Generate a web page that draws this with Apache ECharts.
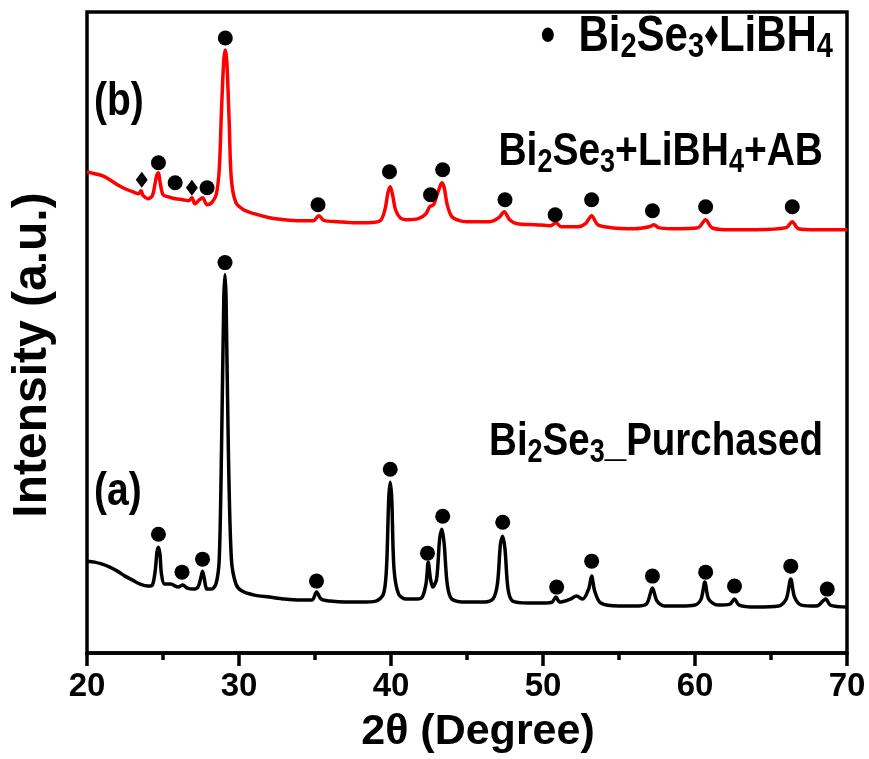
<!DOCTYPE html>
<html>
<head>
<meta charset="utf-8">
<script src="https://cdn.jsdelivr.net/npm/echarts@6/dist/echarts.min.js"></script>
<style>html,body{margin:0;padding:0;background:#fff;}#c{width:869px;height:759px;}</style>
</head>
<body>
<div id="c"></div>
<script>
// 2θ (degree) and intensity (a.u., offset-stacked as in the figure)
const thetaA = [20.0,20.5,21.0,21.5,22.0,22.5,23.0,23.5,24.0,24.3,24.5,24.6,24.7,24.8,24.9,25.1,25.5,26.0,26.3,26.6,27.0,27.3,27.5,27.6,27.7,27.9,28.2,28.5,28.7,28.85,29.0,29.08,29.15,29.3,29.5,29.8,30.2,31.0,32.0,33.0,34.0,34.8,35.1,35.4,36.0,37.0,38.0,39.0,39.5,39.7,39.85,39.95,40.05,40.2,40.5,41.0,41.5,42.0,42.3,42.45,42.6,42.75,43.0,43.2,43.35,43.5,43.7,44.0,45.0,46.0,46.7,47.0,47.2,47.35,47.5,47.7,48.0,49.0,50.0,50.6,50.85,51.1,51.8,52.2,52.6,53.0,53.2,53.4,53.8,55.0,56.0,56.8,57.2,57.5,58.0,59.0,60.0,60.4,60.65,60.9,61.5,62.3,62.6,62.9,64.0,65.5,66.0,66.3,66.55,67.0,68.0,68.6,68.9,70.0];
const intensityA = [92,91,89,86,82,77,73,69,67,68,84,101,106,99,79,69,69,66,68,65,64,66,76,82,76,64,64,70,94,204,354,379,354,204,94,69,62,58,56,54,53,53,61,54,52,51,51,52,59,84,154,171,154,84,59,54,54,55,69,91,74,66,74,114,124,109,69,54,51,51,54,69,109,117,104,64,52,50,50,51,56,51,54,57,54,64,77,62,50,47,47,49,65,52,47,47,48,54,71,54,48,49,54,48,46,47,54,74,56,48,47,54,48,46];

const thetaB = [20.0,20.5,21.0,21.5,22.0,22.5,23.0,23.4,23.55,23.7,24.0,24.3,24.5,24.6,24.7,24.8,25.0,25.3,25.8,26.3,26.7,26.9,27.1,27.4,27.6,27.9,28.2,28.5,28.7,28.85,29.0,29.1,29.2,29.35,29.5,29.8,30.3,31.0,32.0,33.0,34.0,34.9,35.25,35.6,36.5,37.5,38.5,39.3,39.6,39.8,39.95,40.1,40.3,40.6,41.0,41.8,42.3,42.55,42.8,43.1,43.35,43.5,43.7,44.0,44.5,45.0,46.5,47.1,47.45,47.8,48.3,49.5,50.5,50.85,51.2,52.3,52.8,53.2,53.6,54.5,56.0,57.0,57.3,57.6,58.5,60.2,60.7,61.1,62.0,64.0,66.0,66.4,66.8,68.0,70.0];
const intensityB = [482,480,478,474,469,465,462,460,463,458,455,458,472,479,481,472,459,457,455,454,453,456,450,454,456,449,451,459,484,544,594,604,592,534,474,451,444,440,436,434,433,433,438,433,432,431,431,433,444,461,467,459,444,436,434,435,440,447,449,462,471,466,449,437,433,432,432,436,442,434,430,429,428,431,427,427,430,438,429,426,425,427,429,426,425,426,434,426,424,424,426,432,425,424,424];

// Bi2Se3 reflection markers (●) and LiBH4 markers (♦)
const dotThetaA = [24.7,26.25,27.6,29.08,35.1,39.95,42.4,43.4,47.35,50.9,53.2,57.2,60.7,62.6,66.3,68.7];
const dotYA     = [119,81,94,391,72,184,100,137,131,66,92,77,81,67,87,64];
const dotThetaB = [24.7,25.8,27.9,29.1,35.2,39.9,42.6,43.4,47.5,50.8,53.2,57.2,60.7,66.4];
const dotYB     = [491,471,466,616,449,482,459,484,454,439,454,443,447,447];
const diaThetaB = [23.6,26.9];
const diaYB     = [474,466];

const xTicks = [20,30,40,50,60,70];

const zip = (a,b) => a.map((v,i)=>[v,b[i]]);

const chart = echarts.init(document.getElementById('c'), null, {renderer:'canvas'});
const SANS = '"Liberation Sans",Arial,sans-serif';
function rich(main, sub, lh, pad){
  return {
    m:{fontFamily:SANS,fontWeight:'bold',fontSize:main,fill:'#000',lineHeight:lh},
    s:{fontFamily:SANS,fontWeight:'bold',fontSize:sub,fill:'#000',lineHeight:lh,padding:[pad,0,0,0]},
    d:{fontFamily:SANS,fontWeight:'bold',fontSize:sub,fill:'#000',lineHeight:lh}
  };
}
function label(text, x, y, align, main, sub){
  return {type:'text',x:x,y:y,scaleY:1.2,z:10,
    style:{text:text,rich:rich(main,sub,48,18),fill:'#000',textAlign:align,textVerticalAlign:'top'}};
}
chart.setOption({
  animation:false,
  backgroundColor:'#fff',
  grid:{left:87,right:22,top:12,bottom:105,show:true,borderColor:'#000',borderWidth:3.5,backgroundColor:'transparent'},
  xAxis:{
    type:'value',min:xTicks[0],max:xTicks[xTicks.length-1],interval:10,
    axisLine:{show:true,lineStyle:{color:'#000',width:3.5}},
    axisTick:{show:true,inside:false,length:13,lineStyle:{color:'#000',width:3.5}},
    minorTick:{show:true,splitNumber:2,length:7,lineStyle:{color:'#000',width:3.5}},
    splitLine:{show:false},
    axisLabel:{margin:17,color:'#000',fontFamily:SANS,fontWeight:'bold',fontSize:33},
    name:'2θ (Degree)',nameLocation:'middle',nameGap:58,
    nameTextStyle:{color:'#000',fontFamily:SANS,fontWeight:'bold',fontSize:43,padding:[0,0,0,22]}
  },
  yAxis:{
    type:'value',min:0,max:642,show:true,
    axisLine:{show:false},axisTick:{show:false},axisLabel:{show:false},splitLine:{show:false}
  },
  graphic:[
    {type:'text',x:33,y:355,rotation:Math.PI/2,
     style:{text:'Intensity (a.u.)',font:'bold 48px "Liberation Sans", Arial, sans-serif',fill:'#000',textAlign:'center',textVerticalAlign:'middle'}},
    label('{m|•  Bi}{s|2}{m|Se}{s|3}{d|♦}{m|LiBH}{s|4}', 833, 8, 'right', 42, 29),
    label('{m|Bi}{s|2}{m|Se}{s|3}{m|+LiBH}{s|4}{m|+AB}', 823, 123, 'right', 39, 27),
    label('{m|Bi}{s|2}{m|Se}{s|3}{m|_Purchased}', 823, 413, 'right', 38.5, 27),
    label('{m|(b)}', 94, 73, 'left', 39, 27),
    label('{m|(a)}', 94, 463, 'left', 39, 27)
  ],
  series:[
    {type:'line',data:zip(thetaA,intensityA),showSymbol:false,symbol:'none',smooth:0.3,
     lineStyle:{color:'#000',width:3.5},itemStyle:{color:'#000'},z:3},
    {type:'line',data:zip(thetaB,intensityB),showSymbol:false,symbol:'none',smooth:0.3,
     lineStyle:{color:'#f00',width:3.5},itemStyle:{color:'#f00'},z:3},
    {type:'scatter',data:zip(dotThetaA,dotYA),symbol:'circle',symbolSize:15,itemStyle:{color:'#000',opacity:1},z:4},
    {type:'scatter',data:zip(dotThetaB,dotYB),symbol:'circle',symbolSize:15,itemStyle:{color:'#000',opacity:1},z:4},
    {type:'scatter',data:zip(diaThetaB,diaYB),symbol:'diamond',symbolSize:[12,16],itemStyle:{color:'#000',opacity:1},z:4}
  ]
});
</script>
</body>
</html>
